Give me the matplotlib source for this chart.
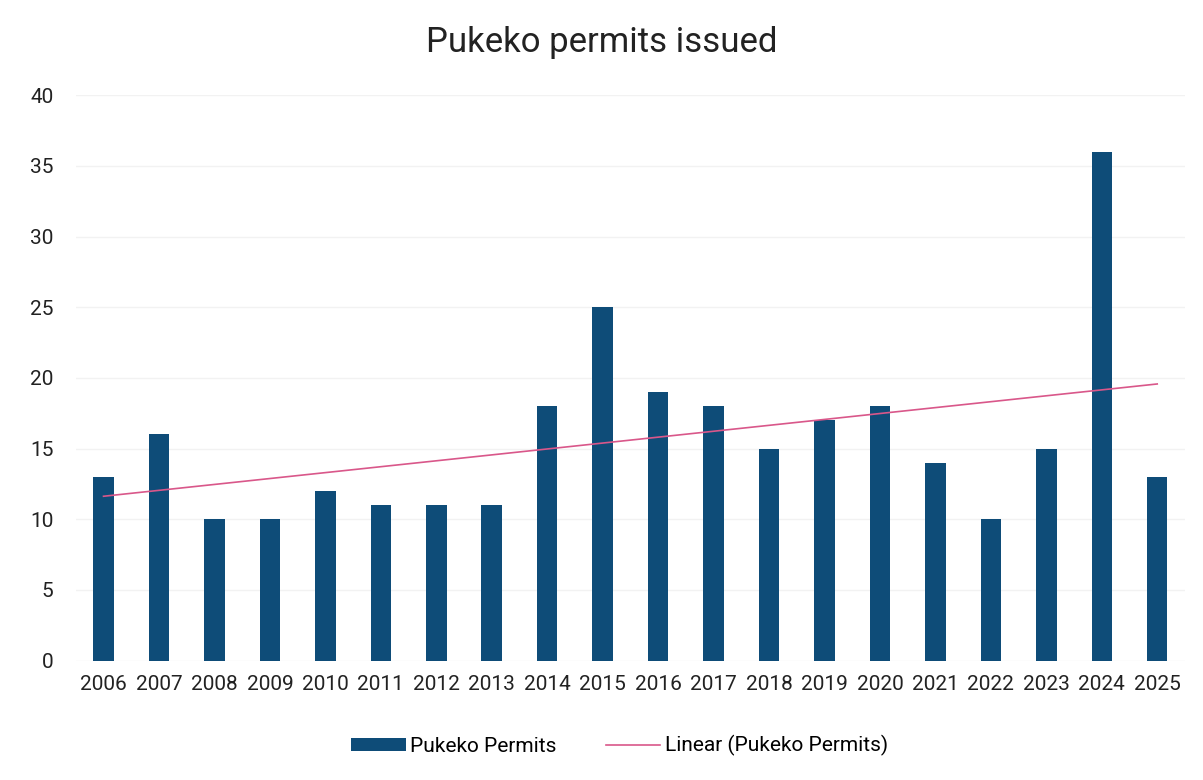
import numpy as np
import matplotlib
matplotlib.use('Agg')
import matplotlib.pyplot as plt

plt.rcParams['font.family'] = ['Roboto', 'DejaVu Sans']

years = ['2006', '2007', '2008', '2009', '2010', '2011', '2012', '2013', '2014', '2015',
         '2016', '2017', '2018', '2019', '2020', '2021', '2022', '2023', '2024', '2025']
permits = [13, 16, 10, 10, 12, 11, 11, 11, 18, 25, 19, 18, 15, 17, 18, 14, 10, 15, 36, 13]

x = np.arange(len(years))
# Excel-style linear trendline
slope, intercept = np.polyfit(x, permits, 1)
trend = slope * x + intercept

fig = plt.figure(figsize=(12.03, 7.8), dpi=100)
ax = fig.add_axes([0.063, 0.153, 0.922, 0.725])

bars = ax.bar(x, permits, width=0.37, color='#0E4C78', label='Pukeko Permits', zorder=2)
line, = ax.plot(x, trend, color='#D9578A', linewidth=1.2, label='Linear (Pukeko Permits)', zorder=3)

ax.set_xlim(-0.5, len(years) - 0.5)
ax.set_ylim(0, 40)
ax.set_yticks(range(0, 41, 5))
ax.set_xticks(x)
ax.set_xticklabels(years)
ax.tick_params(axis='both', length=0, labelsize=15, colors='#222222')
ax.tick_params(axis='x', pad=10)
ax.tick_params(axis='y', pad=16)
ax.grid(axis='y', color='#F2F2F2', linewidth=1, zorder=0)
for s in ax.spines.values():
    s.set_visible(False)

fig.text(0.5, 0.945, 'Pukeko permits issued', ha='center', va='center', fontsize=25, color='#222222')

fig.legend([bars, line], ['Pukeko Permits', 'Linear (Pukeko Permits)'],
           loc='center', bbox_to_anchor=(0.515, 0.044), ncol=2, frameon=False,
           fontsize=15, handlelength=2.6, handleheight=0.6, columnspacing=2.4, handletextpad=0.2)

fig.savefig('out.png', dpi=100, facecolor='white')
